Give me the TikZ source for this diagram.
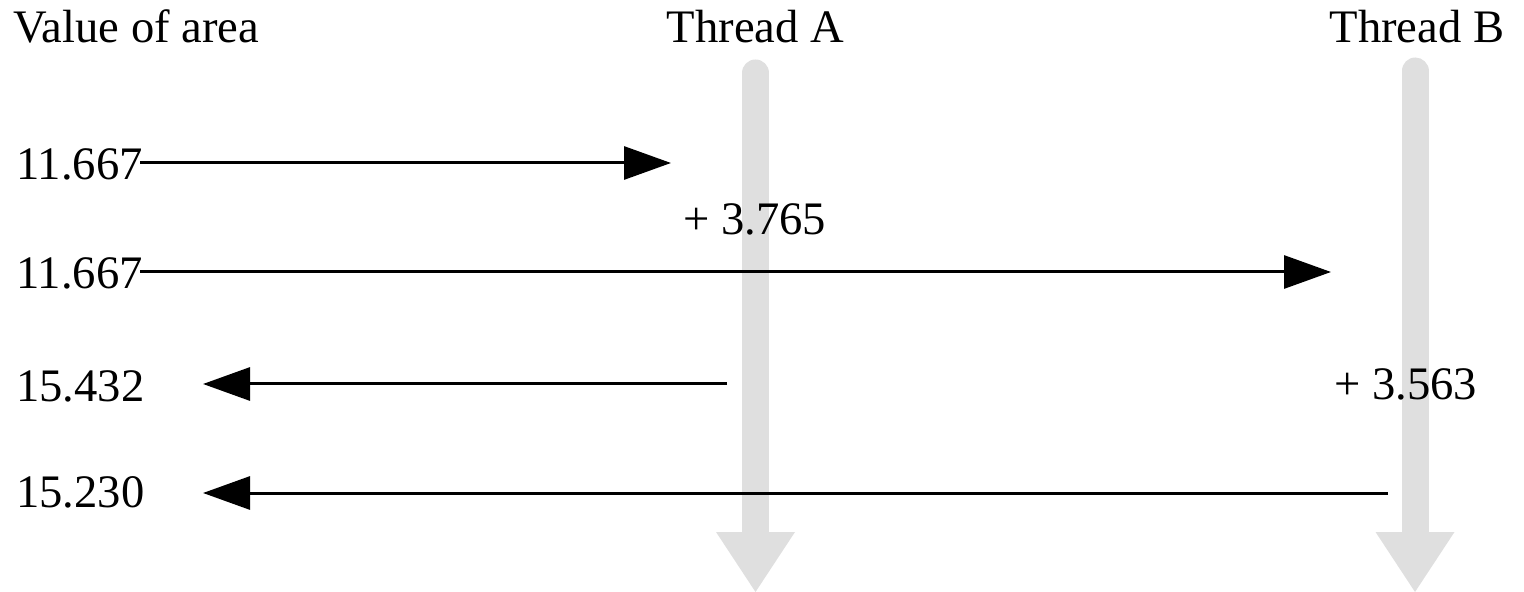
\documentclass[tikz,border=0pt]{standalone}
\usepackage{fontspec}
\setmainfont{Liberation Serif}
\usetikzlibrary{arrows.meta}
\definecolor{threadgray}{RGB}{223,223,223}
\tikzset{
  lbl/.style={inner sep=0pt, font=\fontsize{23.3}{28}\selectfont},
  msg/.style={line width=1.5pt, -{Triangle[length=23.5pt,width=16.5pt]}},
  threadbar/.style={line width=13.5pt, color=threadgray, line cap=round},
  threadhead/.style={fill=threadgray, draw=none}
}
\begin{document}
\begin{tikzpicture}[x=0.5pt,y=-0.5pt]
\useasboundingbox (0,0) rectangle (1524,592);
% thread timelines
\coordinate (ta0) at (755.5,73);
\coordinate (ta1) at (755.5,533);
\coordinate (tb0) at (1415,71);
\coordinate (tb1) at (1415,533);
\draw[threadbar] (ta0) -- (ta1);
\draw[threadbar] (tb0) -- (tb1);
\fill[threadhead] (716,532) -- (795,532) -- (755.5,592) -- cycle;
\fill[threadhead] (1375.5,532) -- (1454.5,532) -- (1415,592) -- cycle;
% labels
\node[lbl, anchor=base west] (hdr) at (13,43) {Value of area};
\node[lbl, anchor=base] (thA) at (755.5,43) {Thread A};
\node[lbl, anchor=base] (thB) at (1417,43) {Thread B};
\node[lbl, anchor=base west] (v1) at (16,180) {11.667};
\node[lbl, anchor=base west] (v2) at (16,289) {11.667};
\node[lbl, anchor=base west] (v3) at (16,402) {15.432};
\node[lbl, anchor=base west] (v4) at (16,507) {15.230};
\node[lbl, anchor=base west] (dA) at (683,235) {+ 3.765};
\node[lbl, anchor=base west] (dB) at (1334,400) {+ 3.563};
% message arrows
\coordinate (s1) at (140,163);
\coordinate (e1) at (671,163);
\coordinate (s2) at (140,272);
\coordinate (e2) at (1331,272);
\coordinate (s3) at (727,384);
\coordinate (e3) at (203,384);
\coordinate (s4) at (1388,493);
\coordinate (e4) at (203,493);
\draw[msg] (s1) -- (e1);
\draw[msg] (s2) -- (e2);
\draw[msg] (s3) -- (e3);
\draw[msg] (s4) -- (e4);
\end{tikzpicture}
\end{document}
